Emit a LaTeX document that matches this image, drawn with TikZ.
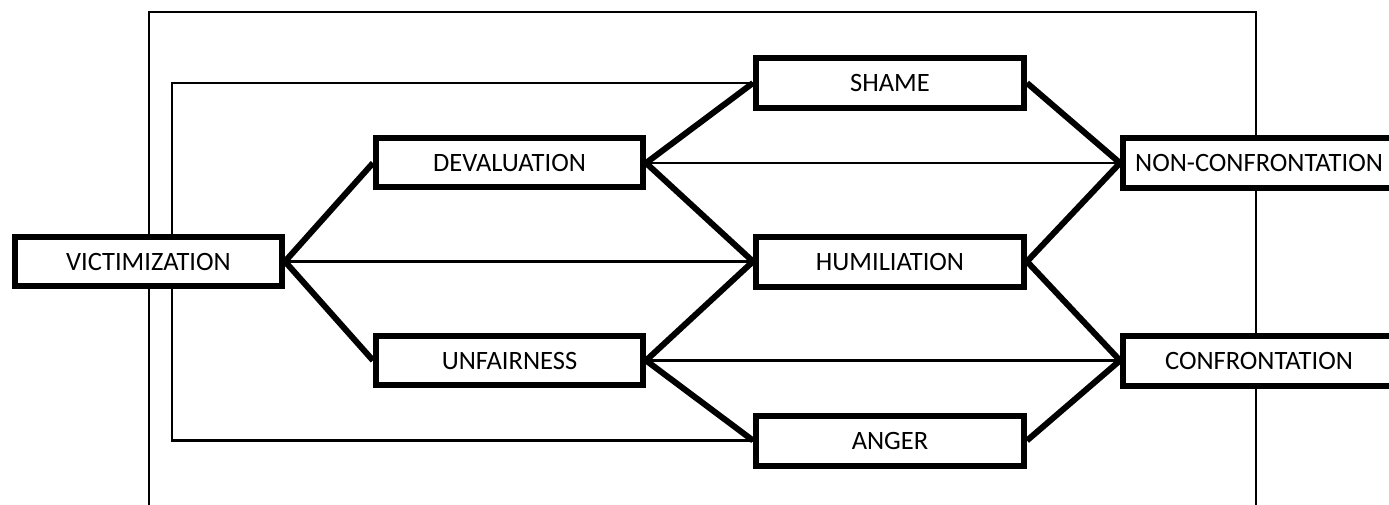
\documentclass[tikz,border=0pt]{standalone}
\usepackage{fontspec}
\setmainfont{Carlito}
\usetikzlibrary{backgrounds}
\begin{document}
\begin{tikzpicture}[x=1pt,y=-1pt,
  box/.style={draw=black,line width=6pt,fill=white,minimum width=267pt,minimum height=49pt,inner sep=0pt,font=\fontsize{26.5}{30}\selectfont},
  thick link/.style={draw=black,line width=6pt},
  thin link/.style={draw=black,line width=2.2pt},
  frameline/.style={draw=black,line width=1.6pt}]
\path[use as bounding box] (0,0) rectangle (1389,505);
\clip (0,0) rectangle (1389,505);
\node[box] (vic) at (148.5,261.5) {VICTIMIZATION};
\node[box] (dev) at (509.5,163) {DEVALUATION};
\node[box] (unf) at (509.5,360.5) {UNFAIRNESS};
\node[box,minimum width=268pt,minimum height=50pt] (sha) at (890,83) {SHAME};
\node[box,minimum width=268pt,minimum height=50pt] (hum) at (890,261.5) {HUMILIATION};
\node[box,minimum width=268pt,minimum height=50pt] (ang) at (890,440.5) {ANGER};
\node[box,minimum width=272pt,minimum height=50pt] (nco) at (1259,163) {NON-CONFRONTATION};
\node[box,minimum width=272pt,minimum height=50pt] (con) at (1259,360.5) {CONFRONTATION};
\coordinate (ftl) at (149,12);
\coordinate (fbr) at (1256,530);
\coordinate (lx) at (172,0);
\begin{scope}[on background layer]
\path[frameline] (ftl) rectangle (fbr);
\path[thin link] (sha.west) -| (lx |- vic.north);
\path[thin link] (lx |- vic.south) |- (ang.west);
\path[thin link] (vic.east) -- (hum.west);
\path[thin link] (dev.east) -- (nco.west);
\path[thin link] (unf.east) -- (con.west);
\path[thick link] (vic.east) -- (dev.west);
\path[thick link] (vic.east) -- (unf.west);
\path[thick link] (dev.east) -- (sha.west);
\path[thick link] (dev.east) -- (hum.west);
\path[thick link] (unf.east) -- (hum.west);
\path[thick link] (unf.east) -- (ang.west);
\path[thick link] (sha.east) -- (nco.west);
\path[thick link] (hum.east) -- (nco.west);
\path[thick link] (hum.east) -- (con.west);
\path[thick link] (ang.east) -- (con.west);
\end{scope}
\end{tikzpicture}
\end{document}
